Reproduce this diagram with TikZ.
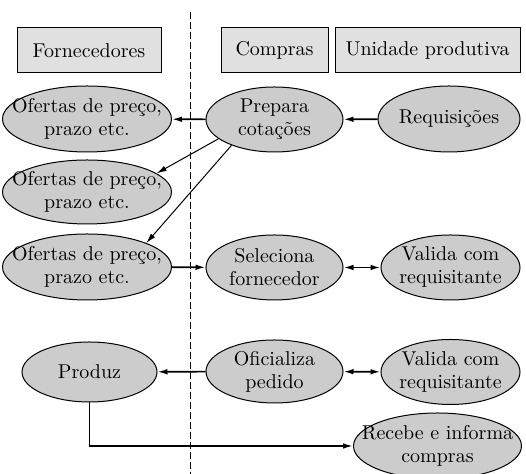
\documentclass[tikz,border=0pt]{standalone}
\usetikzlibrary{shapes.geometric,arrows.meta}

\begin{document}
\begin{tikzpicture}[x=0.5pt, y=-0.5pt, draw=black, fill=black!20,
	box/.style={draw, fill=black!12, minimum height=22.5pt, inner sep=0pt, line width=0.5pt},
	elip/.style={draw, ellipse, fill=black!20, inner xsep=-14pt, inner ysep=0pt, align=center, line width=0.5pt, font=\fontsize{10}{11.5}\selectfont},
	seta/.style={-{Latex[length=5pt,width=2.8pt]}, line width=0.8pt},
	setafina/.style={-{Latex[length=5pt,width=2.8pt]}, line width=0.5pt},
	duasetas/.style={{Latex[length=5pt,width=2.8pt]}-{Latex[length=5pt,width=2.8pt]}, line width=0.8pt}]
	\useasboundingbox (0,0) rectangle (526,474);
	% divisao
	\coordinate (dtop) at (190,12);
	\coordinate (dbot) at (190,474);
	\draw[line width=0.5pt, dash pattern=on 3.5pt off 1.5pt] (dtop)--(dbot);
	% cabecalhos
	\node[box, minimum width=72pt]   (forn) at ( 89,50.5) {Fornecedores};
	\node[box, minimum width=53.5pt] (comp) at (274.5,50.5) {Compras};
	\node[box, minimum width=92.5pt] (unid) at (427.5,50.5) {Unidade produtiva};
	% elipses
	\node[elip, minimum width=84.5pt, minimum height=33pt]   (of1)  at ( 87,119)   {Ofertas de preço,\\prazo etc.};
	\node[elip, minimum width=68.5pt, minimum height=32.5pt] (prep) at (274.5,119.5) {Prepara\\cotações};
	\node[elip, minimum width=71pt,   minimum height=33pt]   (req)  at (449,119)   {Requisições};
	\node[elip, minimum width=84.5pt, minimum height=32pt]   (of2)  at ( 87,192)   {Ofertas de preço,\\prazo etc.};
	\node[elip, minimum width=84.5pt, minimum height=33pt]   (of3)  at ( 87,267)   {Ofertas de preço,\\prazo etc.};
	\node[elip, minimum width=68.5pt, minimum height=32.5pt] (sel)  at (274.5,267.5) {Seleciona\\fornecedor};
	\node[elip, minimum width=69.5pt, minimum height=32.5pt] (val1) at (450.5,267.5) {Valida com\\requisitante};
	\node[elip, minimum width=67.5pt, minimum height=30pt]   (prod) at ( 89.5,372) {Produz};
	\node[elip, minimum width=68.5pt, minimum height=31.5pt] (ofic) at (274.5,371.5) {Oficializa\\pedido};
	\node[elip, minimum width=69.5pt, minimum height=32.5pt] (val2) at (450.5,372) {Valida com\\requisitante};
	\node[elip, minimum width=84pt,   minimum height=33pt]   (rec)  at (437.5,446) {Recebe e informa\\compras};
	% setas
	\draw[seta] (prep)--(of1);
	\draw[seta] (req)--(prep);
	\draw[setafina] (prep.199)--(of2.15);
	\draw[setafina] (prep.211)--(of3.22);
	\draw[seta] (of3)--(sel);
	\draw[duasetas] (sel)--(val1);
	\draw[seta] (ofic)--(prod);
	\draw[duasetas] (ofic)--(val2);
	\draw[seta] (prod)|-(rec);
\end{tikzpicture}
\end{document}
